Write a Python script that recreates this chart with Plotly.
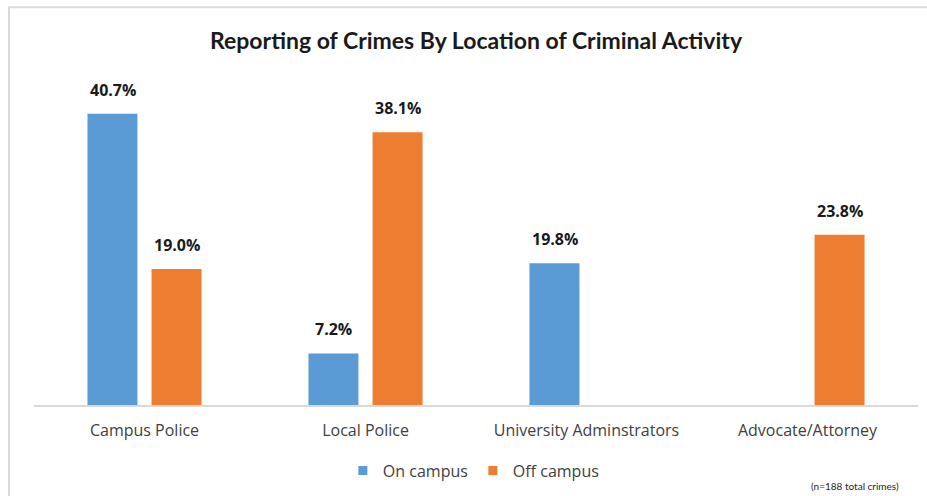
import plotly.graph_objects as go

# Reporting channel categories and the share of crimes reported to each
categories = ["Campus Police", "Local Police", "University Adminstrators", "Advocate/Attorney"]
on_campus = [40.7, 7.2, 19.8, None]
off_campus = [19.0, 38.1, None, 23.8]
series_names = ["On campus", "Off campus"]
colors = ["#5B9BD5", "#ED7D31"]

TEXT = "#404040"
FONT = "Open Sans"

fig = go.Figure()
for name, vals, col in zip(series_names, [on_campus, off_campus], colors):
    fig.add_trace(go.Bar(
        name=name,
        x=categories,
        y=[v if v is not None else 0 for v in vals],
        marker=dict(color=col, line=dict(width=0)),
        hoverinfo="skip",
        showlegend=False,
    ))
    # small square legend keys
    fig.add_trace(go.Scatter(
        name=name, x=[None], y=[None], mode="markers",
        marker=dict(symbol="square", size=9, color=col),
        showlegend=True, hoverinfo="skip",
    ))

# Bold percentage labels above each bar (grouped offsets: left/right of category)
for i, vals in enumerate([on_campus, off_campus]):
    shift = -32 if i == 0 else 32
    for cat, v in zip(categories, vals):
        if v is None:
            continue
        fig.add_annotation(
            x=cat, y=v, xref="x", yref="y",
            text=f"<b>{v:.1f}%</b>",
            showarrow=False, xshift=shift, yshift=11,
            yanchor="bottom",
            font=dict(family=FONT, size=16, color="#1a1a1a"),
        )

fig.add_annotation(
    text="(n=188 total crimes)", xref="paper", yref="paper",
    x=0.929, y=-0.25, showarrow=False, xanchor="center", yanchor="middle",
    font=dict(family="Lato", size=10, color="#262626"),
)

# Light chart-area frame (top and left edges visible)
fig.add_shape(type="rect", xref="paper", yref="paper",
              x0=-0.0283, x1=1.2, y0=-0.6, y1=1.235,
              line=dict(color="#D9D9D9", width=2), fillcolor="rgba(0,0,0,0)", layer="below")

fig.update_layout(
    width=927, height=496,
    margin=dict(l=34, r=9, t=83, b=90),
    paper_bgcolor="white", plot_bgcolor="white",
    barmode="group", bargap=0.42, bargroupgap=0.22,
    title=dict(text="<b>Reporting of Crimes By Location of Criminal Activity</b>",
               x=0.5, xref="paper", xanchor="center", y=0.917, yanchor="middle",
               font=dict(family="Lato", size=23, color="#1a1a1a")),
    showlegend=True,
    legend=dict(orientation="h", x=0.497, xanchor="center", y=-0.2, yanchor="middle",
                font=dict(family=FONT, size=16, color=TEXT), itemwidth=30,
                traceorder="normal"),
    font=dict(family=FONT, color=TEXT),
)
fig.update_xaxes(showline=True, linecolor="#D9D9D9", linewidth=2, ticks="",
                 tickfont=dict(family=FONT, size=16, color=TEXT), ticklabelstandoff=10)
fig.update_yaxes(range=[0, 45], visible=False, showgrid=False, zeroline=False)

fig.write_html("out.html")
